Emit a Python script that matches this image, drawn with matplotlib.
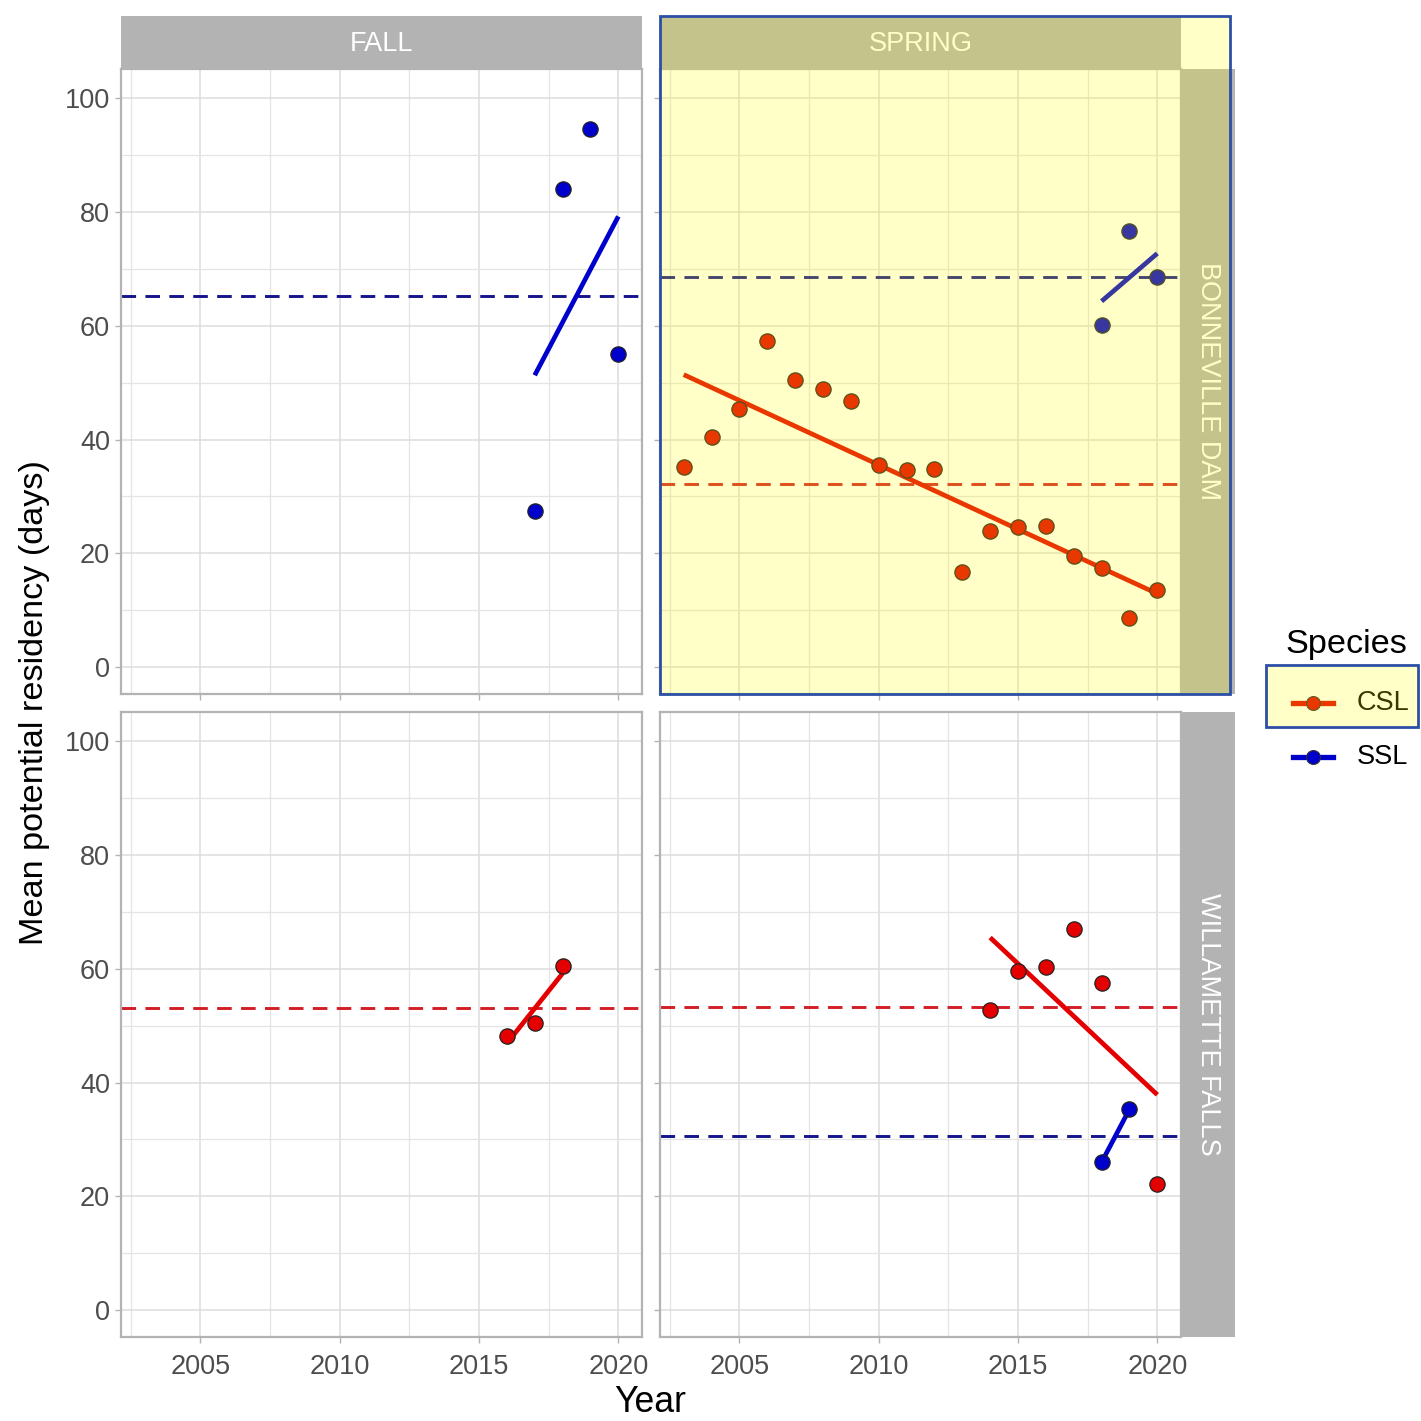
import numpy as np
import matplotlib.pyplot as plt
from matplotlib.patches import Rectangle
from matplotlib.lines import Line2D

plt.rcParams['font.family'] = ['Liberation Sans', 'DejaVu Sans']

### data

# FALL / BONNEVILLE DAM
fall_bon_ssl_years = [2017, 2018, 2019, 2020]
fall_bon_ssl_vals = [27.5, 84.0, 94.5, 55.0]

# SPRING / BONNEVILLE DAM
spr_bon_csl_years = list(range(2003, 2021))
spr_bon_csl_vals = [35.1, 40.5, 45.3, 57.4, 50.5, 48.9, 46.7, 35.6, 34.6,
                    34.9, 16.8, 23.9, 24.7, 24.9, 19.6, 17.4, 8.6, 13.5]
spr_bon_ssl_years = [2018, 2019, 2020]
spr_bon_ssl_vals = [60.2, 76.7, 68.6]

# FALL / WILLAMETTE FALLS
fall_wil_csl_years = [2016, 2017, 2018]
fall_wil_csl_vals = [48.2, 50.4, 60.5]

# SPRING / WILLAMETTE FALLS
spr_wil_csl_years = [2014, 2015, 2016, 2017, 2018, 2020]
spr_wil_csl_vals = [52.7, 59.6, 60.3, 67.0, 57.5, 22.1]
spr_wil_ssl_years = [2018, 2019]
spr_wil_ssl_vals = [26.0, 35.3]

seasons = ['FALL', 'SPRING']
sites = ['BONNEVILLE DAM', 'WILLAMETTE FALLS']
species = ['CSL', 'SSL']

panels = {
    (0, 0): {'SSL': (fall_bon_ssl_years, fall_bon_ssl_vals)},
    (0, 1): {'CSL': (spr_bon_csl_years, spr_bon_csl_vals),
             'SSL': (spr_bon_ssl_years, spr_bon_ssl_vals)},
    (1, 0): {'CSL': (fall_wil_csl_years, fall_wil_csl_vals)},
    (1, 1): {'CSL': (spr_wil_csl_years, spr_wil_csl_vals),
             'SSL': (spr_wil_ssl_years, spr_wil_ssl_vals)},
}

col_pt = {'CSL': '#E40000', 'SSL': '#0000CC'}
col_dash = {'CSL': '#D41E26', 'SSL': '#14148C'}

W = 1421.0
def fx(px):
    return px / W
def fy(py):
    return 1 - py / W

### figure

fig = plt.figure(figsize=(14.21, 14.21), dpi=100)

col_x = [(121, 642), (660, 1181)]
row_y = [(69, 694), (712, 1337)]
grey70 = '#B3B3B3'
small = 19.5
big = 24.7

for (r, c), data in panels.items():
    x0, x1 = col_x[c]
    y0, y1 = row_y[r]
    ax = fig.add_axes([fx(x0), fy(y1), fx(x1 - x0), (y1 - y0) / W])
    ax.set_xlim(2002.15, 2020.85)
    ax.set_ylim(-4.7, 105.1)
    ax.set_xticks([2005, 2010, 2015, 2020])
    ax.set_xticks([2002.5, 2007.5, 2012.5, 2017.5], minor=True)
    ax.set_yticks([0, 20, 40, 60, 80, 100])
    ax.set_yticks([10, 30, 50, 70, 90], minor=True)
    ax.grid(True, which='major', color='#DCDCDC', lw=1.1)
    ax.grid(True, which='minor', color='#E4E4E4', lw=0.9)
    ax.set_axisbelow(True)
    for s in ax.spines.values():
        s.set_color(grey70)
        s.set_linewidth(1.6)
    ax.tick_params(which='major', length=4, width=1, color=grey70,
                   labelsize=small, labelcolor='#4D4D4D')
    ax.tick_params(axis='x', pad=8)
    ax.tick_params(axis='y', pad=4)
    ax.tick_params(which='minor', length=0)
    if c == 1:
        ax.set_yticklabels([])
    if r == 0:
        ax.set_xticklabels([])

    for sp in species:
        if sp not in data:
            continue
        xs, ys = np.array(data[sp][0]), np.array(data[sp][1])
        ax.axhline(ys.mean(), color=col_dash[sp], lw=2.1, ls=(0, (5, 3.2)), zorder=2)
        k, b = np.polyfit(xs, ys, 1)
        xl = np.array([xs.min(), xs.max()])
        ax.plot(xl, k * xl + b, color=col_pt[sp], lw=3.4, zorder=3, solid_capstyle='butt')
        ax.plot(xs, ys, 'o', ms=11, mfc=col_pt[sp], mec='#222222', mew=0.9, zorder=4)

# strips
for c, name in enumerate(seasons):
    x0, x1 = col_x[c]
    fig.add_artist(Rectangle((fx(x0), fy(69)), fx(x1 - x0), 53 / W,
                             transform=fig.transFigure, fc=grey70, ec='none'))
    fig.text(fx((x0 + x1) / 2), fy(44), name, color='white', fontsize=small,
             ha='center', va='center')
for r, name in enumerate(sites):
    y0, y1 = row_y[r]
    fig.add_artist(Rectangle((fx(1181), fy(y1)), fx(54), (y1 - y0) / W,
                             transform=fig.transFigure, fc=grey70, ec='none'))
    fig.text(fx(1208), fy((y0 + y1) / 2), name, color='white', fontsize=small,
             ha='center', va='center', rotation=-90)

# axis titles
fig.text(fx(35), fy(703), 'Mean potential residency (days)', fontsize=big,
         rotation=90, ha='center', va='center')
fig.text(fx(650), fy(1403), 'Year', fontsize=big + 1, ha='center', va='center')

# legend
fig.text(fx(1285), fy(645), 'Species', fontsize=big, ha='left', va='center')
for i, sp in enumerate(species):
    yy = fy(703 + 54 * i)
    fig.add_artist(Line2D([fx(1293), fx(1333)], [yy, yy], transform=fig.transFigure,
                          color=col_pt[sp], lw=3.8))
    fig.add_artist(Line2D([fx(1313)], [yy], transform=fig.transFigure, marker='o',
                          ms=10, mfc=col_pt[sp], mec='#333333', mew=0.8))
    fig.text(fx(1357), yy, sp, fontsize=small, ha='left', va='center')

# highlight boxes
hl_fill = dict(transform=fig.transFigure, fc='#FFFF00', alpha=0.22, ec='none', zorder=20)
hl_edge = dict(transform=fig.transFigure, fc='none', ec='#2B4FA6', lw=2, zorder=21)
box = (fx(660), fy(694)), fx(570), 678 / W
fig.add_artist(Rectangle(*box, **hl_fill))
fig.add_artist(Rectangle(*box, **hl_edge))
lbox = (fx(1266), fy(727)), fx(152), 62 / W
fig.add_artist(Rectangle(*lbox, **hl_fill))
fig.add_artist(Rectangle(*lbox, **hl_edge))

fig.savefig('out.png', dpi=100)
